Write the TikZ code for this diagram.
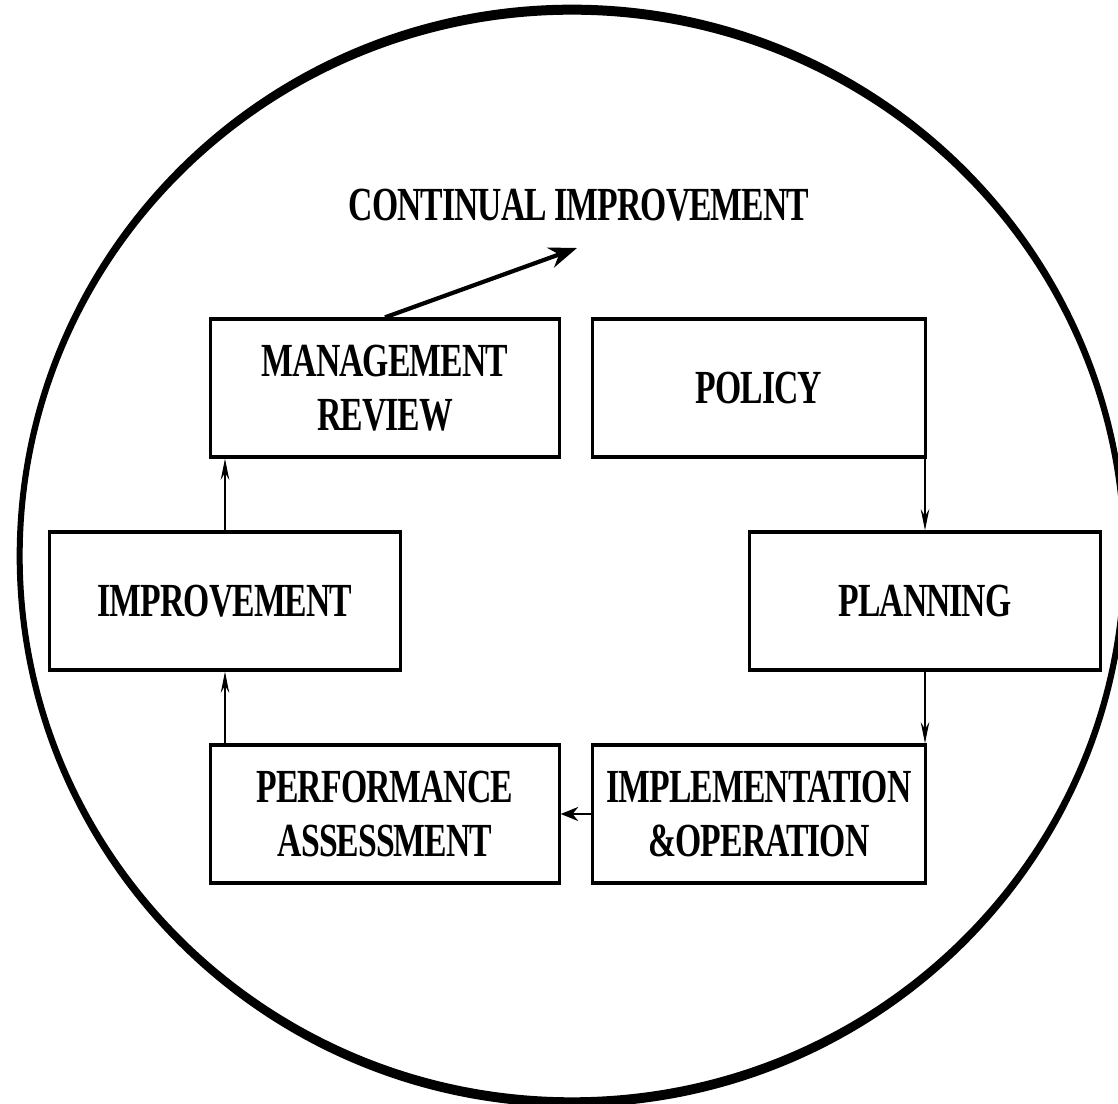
\documentclass[tikz,border=0pt]{standalone}
\usepackage{fontspec}
\usepackage{tikz}
\usetikzlibrary{arrows.meta,positioning}
\newfontfamily\cyclefont{Liberation Serif}[FakeStretch=0.71,LetterSpace=-2]

\begin{document}
\begin{tikzpicture}[x=0.01cm,y=-0.01cm,
  every node/.style={font=\cyclefont\bfseries\fontsize{13.5}{15.5}\selectfont},
  phase/.style={draw,line width=0.9pt,minimum height=1.38cm,align=center,inner sep=0pt},
  flow/.style={-{Stealth[length=6pt,width=2.4pt]},line width=0.6pt}]
  \useasboundingbox (0,0) rectangle (1118,1104);
  \fill[even odd rule] (572,556) ellipse [x radius=5.55cm,y radius=5.51cm]
    (572,556) ellipse [x radius=5.49cm,y radius=5.41cm];
  \node (ci) at (579,205) {CONTINUAL IMPROVEMENT};
  \coordinate (citip) at (577,248);
  \node[phase,minimum width=3.48cm] (mgmt) at (385,388) {MANAGEMENT\\REVIEW};
  \node[phase,minimum width=3.33cm] (policy) at (759,388) {POLICY};
  \node[phase,minimum width=3.51cm] (improv) at (225,601) {IMPROVEMENT};
  \node[phase,minimum width=3.50cm] (planning) at (925,601) {PLANNING};
  \node[phase,minimum width=3.48cm] (perf) at (385,814) {PERFORMANCE\\ASSESSMENT};
  \node[phase,minimum width=3.33cm] (impl) at (759,814) {IMPLEMENTATION\\\&OPERATION};
  \draw[line width=1.2pt,-{Stealth[length=8pt,width=6pt]}] (mgmt.north) -- (citip);
  \draw[flow] (policy.south -| planning.north) -- (planning.north);
  \draw[flow] (planning.south) -- (planning.south |- impl.north);
  \draw[flow,-{Stealth[length=5pt,width=4pt]}] (impl.west) -- (perf.east);
  \draw[flow] (perf.north -| improv.south) -- (improv.south);
  \draw[flow] (improv.north) -- (improv.north |- mgmt.south);
\end{tikzpicture}
\end{document}
